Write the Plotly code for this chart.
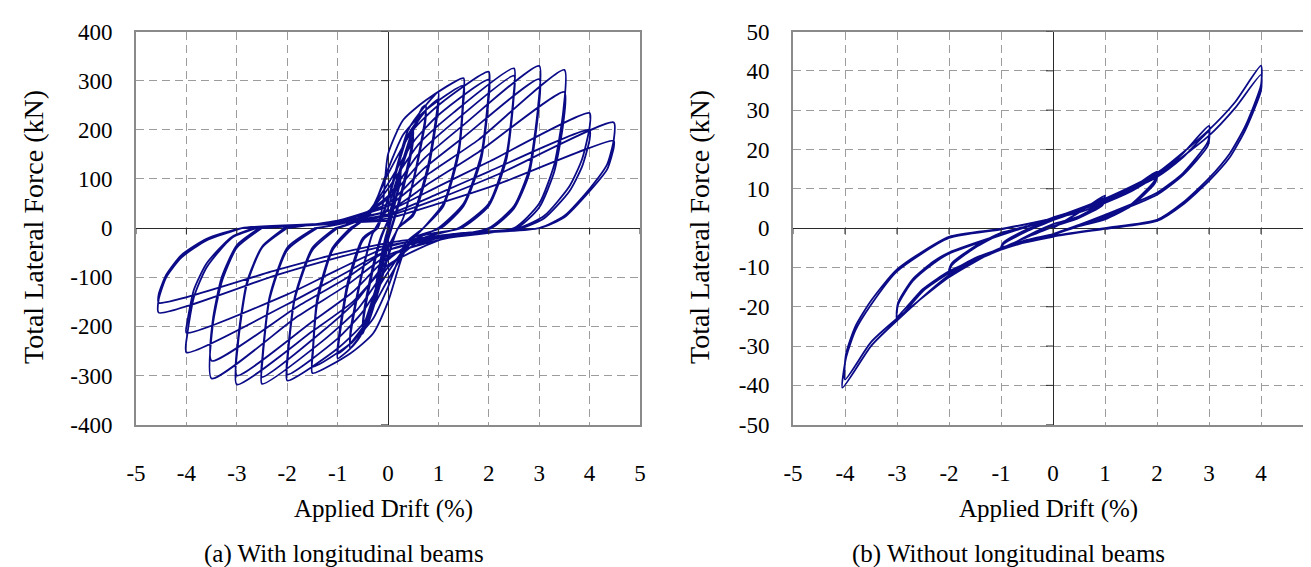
import plotly.graph_objects as go

# ---------------- tick values / labels ----------------
drift_ticks = [-5, -4, -3, -2, -1, 0, 1, 2, 3, 4, 5]
drift_labels = ["-5", "-4", "-3", "-2", "-1", "0", "1", "2", "3", "4", "5"]
force_a_ticks = [-400, -300, -200, -100, 0, 100, 200, 300, 400]
force_a_labels = ["-400", "-300", "-200", "-100", "0", "100", "200", "300", "400"]
force_b_ticks = [-50, -40, -30, -20, -10, 0, 10, 20, 30, 40, 50]
force_b_labels = ["-50", "-40", "-30", "-20", "-10", "0", "10", "20", "30", "40", "50"]

# ---------------- (a) With longitudinal beams : cycles ----------------
a_drift_cycles = [
    [0, 0.12, 0.25, 0.24, 0.15, 0.05, -0.05, -0.15, -0.25, -0.24, -0.15, -0.05, 0],
    [0, 0.12, 0.25, 0.24, 0.15, 0.05, -0.05, -0.15, -0.25, -0.24, -0.15, -0.05, 0],
    [0, 0.25, 0.5, 0.49, 0.35, 0.15, 0, -0.25, -0.5, -0.49, -0.35, -0.15, 0],
    [0, 0.25, 0.5, 0.49, 0.35, 0.15, 0, -0.25, -0.5, -0.49, -0.35, -0.15, 0],
    [0, 0.3, 0.55, 0.68, 0.75, 0.74, 0.55, 0.3, 0, -0.3, -0.55, -0.75, -0.74, -0.55, -0.3, 0],
    [0, 0.3, 0.55, 0.75, 0.74, 0.55, 0.3, 0, -0.3, -0.55, -0.75, -0.74, -0.55, -0.3, -0.2],
    [-0.2, 0, 0.4, 0.75, 1.0, 0.98, 0.8, 0.5, 0.2, 0, -0.4, -0.75, -1.0, -0.98, -0.8, -0.5, -0.2],
    [-0.2, 0, 0.4, 0.75, 1.0, 0.98, 0.8, 0.5, 0.2, 0, -0.4, -0.75, -1.0, -0.98, -0.8, -0.5, -0.2],
    [-0.2, -0.1, 0, 0.3, 0.75, 1.5, 1.49, 1.4, 1.1, 0.7, 0.35, 0, -0.3, -0.75, -1.5, -1.49, -1.4, -1.1, -0.7],
    [-0.7, -0.35, 0, 0.3, 0.75, 1.5, 1.49, 1.4, 1.1, 0.7, 0.35, 0, -0.3, -0.75, -1.5, -1.49, -1.4, -1.1, -0.75],
    [-0.75, -0.4, 0, 0.5, 1.0, 2.0, 1.99, 1.85, 1.5, 1.0, 0.5, 0, -0.5, -1.0, -2.0, -1.99, -1.85, -1.5, -1.0],
    [-1.0, -0.5, 0, 0.5, 1.0, 2.0, 1.99, 1.85, 1.5, 1.05, 0.5, 0, -0.5, -1.0, -2.0, -1.99, -1.85, -1.5, -1.05],
    [-1.05, -0.5, 0, 0.6, 1.3, 2.5, 2.49, 2.35, 2.0, 1.4, 0.7, 0, -0.6, -1.3, -2.5, -2.49, -2.35, -2.0, -1.4],
    [-1.4, -0.7, 0, 0.6, 1.3, 2.5, 2.49, 2.35, 2.0, 1.45, 0.7, 0, -0.6, -1.3, -2.5, -2.49, -2.35, -2.0, -1.45],
    [-1.45, -0.7, 0, 0.7, 1.5, 3.0, 2.98, 2.8, 2.5, 2.0, 1.0, 0, -0.7, -1.5, -3.0, -2.98, -2.8, -2.5, -2.0],
    [-2.0, -1.0, 0, 0.7, 1.5, 3.0, 2.98, 2.8, 2.5, 2.05, 1.0, 0, -0.7, -1.5, -3.0, -2.98, -2.8, -2.5, -2.05],
    [-2.05, -1.0, 0, 0.8, 1.8, 3.5, 3.48, 3.3, 3.0, 2.5, 1.2, 0, -0.8, -1.8, -3.5, -3.48, -3.3, -3.0, -2.5],
    [-2.5, -1.2, 0, 0.8, 1.8, 3.5, 3.48, 3.3, 3.0, 2.55, 1.2, 0, -0.8, -1.8, -3.5, -3.48, -3.3, -3.0, -2.55],
    [-2.55, -1.2, 0, 1.0, 2.0, 4.0, 4.0, 3.85, 3.6, 3.1, 2.6, 1.3, 0, -1.0, -2.0, -4.0, -3.98, -3.85, -3.6, -3.1, -2.6],
    [-2.6, -1.3, 0, 1.0, 2.0, 4.0, 4.0, 3.85, 3.6, 3.1, 2.65, 1.3, 0, -1.0, -2.0, -4.0, -3.98, -3.85, -3.6, -3.1, -2.65],
    [-2.65, -1.3, 0, 1.0, 2.2, 4.48, 4.48, 4.35, 4.0, 3.5, 3.0, 1.5, 0, -1.0, -2.2, -4.55, -4.55, -4.4, -4.1, -3.6, -2.9],
    [-2.9, -1.5, 0, 1.0, 2.2, 4.48, 4.48, 4.35, 4.0, 3.5, 3.0, 1.5, 0, -1.0, -2.2, -4.55, -4.55, -4.4, -4.1, -3.6, -2.9, -1.5, 0],
]
a_force_cycles = [
    [0, 70, 120, 100, 60, 15, -30, -90, -150, -125, -70, -20, 0],
    [0, 65, 110, 92, 55, 12, -28, -85, -140, -118, -65, -18, 0],
    [5, 120, 200, 180, 110, 30, -20, -130, -215, -190, -110, -25, 15],
    [15, 115, 188, 170, 100, 25, -25, -125, -202, -180, -100, -20, 15],
    [15, 140, 215, 245, 250, 225, 120, 20, -40, -150, -220, -245, -215, -110, -10, 40],
    [40, 140, 210, 238, 215, 115, 20, -40, -145, -212, -236, -205, -105, -10, 0],
    [0, 60, 200, 250, 276, 245, 130, 30, 0, -60, -195, -245, -265, -235, -120, -25, 0],
    [0, 55, 190, 240, 262, 232, 120, 25, 0, -55, -185, -235, -255, -225, -110, -20, 0],
    [0, 50, 150, 220, 260, 305, 265, 160, 50, 0, -40, -150, -215, -255, -295, -255, -150, -45, 0],
    [0, 30, 120, 190, 240, 290, 250, 150, 45, 0, -30, -120, -185, -235, -282, -245, -140, -40, 0],
    [0, 25, 110, 200, 250, 318, 270, 150, 50, 0, -25, -105, -195, -245, -310, -265, -145, -45, 0],
    [0, 20, 90, 175, 230, 302, 255, 140, 45, 0, -20, -90, -170, -225, -298, -255, -140, -40, 0],
    [0, 20, 80, 170, 235, 325, 270, 150, 50, 0, -20, -80, -165, -230, -317, -270, -145, -45, 0],
    [0, 15, 65, 150, 215, 310, 260, 140, 45, 0, -15, -65, -145, -210, -303, -260, -140, -40, 0],
    [0, 15, 60, 140, 210, 330, 250, 120, 45, 0, -25, -75, -150, -210, -318, -240, -115, -40, 0],
    [0, 15, 50, 120, 185, 303, 235, 110, 40, 0, -20, -60, -130, -190, -300, -230, -110, -38, 0],
    [0, 15, 45, 110, 180, 322, 240, 130, 50, 0, -20, -55, -115, -180, -306, -200, -110, -40, 0],
    [0, 10, 35, 90, 155, 277, 215, 115, 42, 0, -15, -45, -100, -160, -270, -190, -100, -35, 0],
    [0, 10, 35, 85, 135, 234, 205, 140, 85, 25, 0, -15, -45, -100, -155, -253, -215, -140, -80, -20, 0],
    [0, 8, 28, 70, 115, 200, 180, 125, 75, 20, 0, -12, -38, -85, -135, -213, -190, -125, -72, -18, 0],
    [0, 8, 25, 60, 110, 215, 180, 130, 80, 25, 0, -12, -35, -60, -95, -172, -145, -100, -60, -25, 0],
    [0, 6, 20, 50, 90, 178, 165, 120, 75, 22, 0, -10, -30, -52, -85, -152, -135, -95, -55, -22, 0, 8, 15],
]

# ---------------- (b) Without longitudinal beams ----------------
b_drift_cycles = [
    [0, 0.5, 1.0, 0.95, 0.5, 0, -0.5, -1.0, -0.95, -0.5, 0],
    [0, 0.5, 1.0, 0.95, 0.5, 0, -0.5, -1.0, -0.95, -0.5, 0],
    [0, 0.5, 1.0, 0.95, 0.5, 0, -0.5, -1.0, -0.95, -0.5, 0],
    [0, 0.5, 1.0, 1.5, 2.0, 1.95, 1.5, 1.0, 0.5, 0, -0.5, -1.0, -1.5, -2.0, -1.95, -1.5, -1.0, -0.5, 0],
    [0, 0.5, 1.0, 1.5, 2.0, 1.95, 1.5, 1.0, 0.5, 0, -0.5, -1.0, -1.5, -2.0, -1.95, -1.5, -1.0, -0.5, 0],
    [0, 0.5, 1.0, 1.5, 2.0, 1.95, 1.5, 1.0, 0.5, 0, -0.5, -1.0, -1.5, -2.0, -1.95, -1.5, -1.0, -0.5, 0],
    [0, 1.0, 2.0, 2.5, 3.0, 2.98, 2.5, 2.0, 1.0, 0, -1.0, -2.0, -2.5, -3.0, -2.98, -2.7, -2.3, -2.0, -1.0, 0],
    [0, 1.0, 2.0, 2.5, 3.0, 2.98, 2.5, 2.0, 1.0, 0, -1.0, -2.0, -2.5, -3.0, -2.98, -2.7, -2.3, -2.0, -1.0, 0],
    [0, 1.0, 2.0, 3.0, 3.5, 4.0, 4.0, 3.7, 3.4, 3.0, 2.5, 2.0, 1.0, 0, -1.0, -2.0, -3.0, -3.5, -4.05, -3.98, -3.8, -3.5, -3.0, -2.0, -1.0, 0],
    [0, 1.0, 2.0, 3.0, 3.5, 4.0, 4.0, 3.7, 3.4, 3.0, 2.5, 2.0, 1.0, 0, -1.0, -2.0, -3.0, -3.5, -4.0, -3.98, -3.8, -3.5, -3.0, -2.0, -1.0, 0],
]
b_force_cycles = [
    [0, 4, 8.3, 6.5, 3, 1.0, -2, -5.5, -4, -0.8, 2],
    [2, 4.5, 7.8, 6, 2.8, 0.5, -2.2, -5.2, -3.8, -0.5, 2.2],
    [2.2, 4.6, 7.5, 5.8, 2.6, 0.3, -2.3, -5.0, -3.6, -0.3, 2.3],
    [2.5, 4, 6.5, 10, 14.4, 12, 6, 2.5, 0.8, -1.5, -3, -5.5, -8, -11.8, -9.5, -5, -1.5, 0.3, 2.5],
    [2.5, 4, 6.5, 9.5, 13.5, 11.5, 5.8, 2.3, 0.6, -1.6, -3, -5.3, -7.8, -11.3, -9.2, -4.8, -1.3, 0.4, 2.6],
    [2.6, 4, 6.4, 9.3, 13.0, 11.2, 5.6, 2.2, 0.5, -1.7, -3.1, -5.2, -7.6, -11.0, -9.0, -4.6, -1.2, 0.5, 2.7],
    [2.7, 7, 13.5, 19, 26, 22, 14, 9, 3.4, -1.5, -5.5, -11.5, -16, -23.3, -19.5, -13.5, -9, -6.5, -1.8, 2.5],
    [2.5, 6.8, 13, 18, 24.5, 21, 13.5, 8.5, 3.0, -1.6, -5.3, -11, -15.5, -22.5, -19, -13, -8.5, -6.2, -1.6, 2.5],
    [2.5, 7.5, 14, 25, 32, 41.3, 36.4, 26, 19, 12.7, 6.5, 2.1, 0, -2, -5, -12, -23.5, -30, -40.6, -33, -26, -19.5, -11, -2.5, -0.3, 2.5],
    [2.5, 7.2, 13.5, 23.5, 30.5, 39, 35, 25, 18, 12, 6, 1.8, -0.2, -2.2, -5.2, -12.5, -23, -29, -38.5, -32, -25, -18.5, -10.5, -2.2, -0.2, 2.3],
]

LINE_COLOR = "#0b0b88"
SERIF = "Liberation Serif, Times New Roman, serif"


def concat(cycles):
    out = []
    for c in cycles:
        out.extend(c)
    return out


fig = go.Figure()
fig.add_trace(go.Scatter(x=concat(a_drift_cycles), y=concat(a_force_cycles), mode="lines",
                         line=dict(color=LINE_COLOR, width=1.8, shape="spline", smoothing=0.6),
                         xaxis="x", yaxis="y", showlegend=False, hoverinfo="skip"))
fig.add_trace(go.Scatter(x=concat(b_drift_cycles), y=concat(b_force_cycles), mode="lines",
                         line=dict(color=LINE_COLOR, width=1.8, shape="spline", smoothing=0.6),
                         xaxis="x2", yaxis="y2", showlegend=False, hoverinfo="skip"))

W, H = 1311, 567
common = dict(showgrid=True, gridcolor="#9c9c9c", gridwidth=1, griddash="8px,5px",
              zeroline=True, zerolinecolor="#2a2a2a", zerolinewidth=1,
              showline=True, linecolor="#8a8a8a", linewidth=2, mirror=True,
              ticks="outside", tickcolor="rgba(0,0,0,0)",
              tickfont=dict(family=SERIF, size=23, color="black"),
              fixedrange=True, automargin=False)

ydom = [1 - 416.7 / H, 1 - 23.5 / H]
fig.update_layout(
    width=W, height=H, autosize=False,
    margin=dict(l=0, r=0, t=0, b=0),
    paper_bgcolor="white", plot_bgcolor="white",
    xaxis=dict(domain=[128 / W, 632 / W], anchor="y", range=[-5, 5],
               tickvals=drift_ticks, ticktext=drift_labels, ticklen=27, **common),
    yaxis=dict(domain=ydom, anchor="x", range=[-400, 400],
               tickvals=force_a_ticks, ticktext=force_a_labels, ticklen=17, **common),
    xaxis2=dict(domain=[785 / W, 1305 / W], anchor="y2", range=[-5, 5],
                tickvals=drift_ticks, ticktext=drift_labels, ticklen=27, **common),
    yaxis2=dict(domain=ydom, anchor="x2", range=[-50, 50],
                tickvals=force_b_ticks, ticktext=force_b_labels, ticklen=17, **common),
)

# small tick marks on the axes that cross at zero
shapes = []
for xr, yr, xt, yt in (("x", "y", drift_ticks, force_a_ticks), ("x2", "y2", drift_ticks, force_b_ticks)):
    for v in yt:
        shapes.append(dict(type="line", xref=xr, yref=yr, xsizemode="pixel", xanchor=0,
                           x0=-7, x1=0, y0=v, y1=v, line=dict(color="#2a2a2a", width=1)))
    for v in xt:
        shapes.append(dict(type="line", xref=xr, yref=yr, ysizemode="pixel", yanchor=0,
                           y0=-6, y1=0, x0=v, x1=v, line=dict(color="#2a2a2a", width=1)))
fig.update_layout(shapes=shapes)

ann = []
def add_text(txt, px, py, size, angle=0):
    ann.append(dict(text=txt, x=px / W, y=1 - py / H, xref="paper", yref="paper",
                    xanchor="center", yanchor="middle", showarrow=False, textangle=angle,
                    font=dict(family=SERIF, size=size, color="black")))

add_text("Total Lateral Force (kN)", 25, 219, 28, -90)
add_text("Total Lateral Force (kN)", 691, 219, 28, -90)
add_text("Applied Drift (%)", 375, 501, 25)
add_text("Applied Drift (%)", 1040, 501, 25)
add_text("(a) With longitudinal beams", 336, 546, 25)
add_text("(b) Without longitudinal beams", 1000, 546, 25)
fig.update_layout(annotations=ann)

fig.write_html("out.html")
